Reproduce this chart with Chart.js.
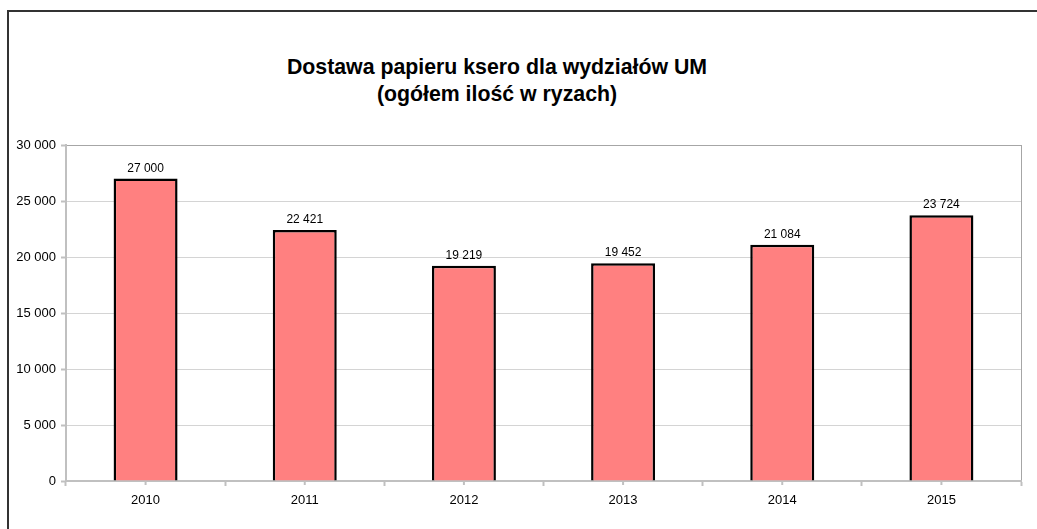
<!DOCTYPE html>
<html>
<head>
<meta charset="utf-8">
<script src="https://cdn.jsdelivr.net/npm/chart.js@4/dist/chart.umd.min.js"></script>
<style>
  html, body { margin: 0; padding: 0; background: #fff; overflow: hidden; }
  #frame {
    position: absolute; left: 7px; top: 10px;
    width: 1100px; height: 600px;
    border: 2px solid #333;
  }
  #title {
    position: absolute; left: 197px; top: 54px; width: 600px;
    text-align: center;
    font: bold 21.3px "Liberation Sans", Arial, sans-serif;
    line-height: 27px; color: #000; white-space: nowrap;
  }
  #wrap { position: absolute; left: 0; top: 0; width: 1037px; height: 529px; }
  canvas { display: block; }
</style>
</head>
<body>
<div id="frame"></div>
<div id="title">Dostawa papieru ksero dla wydziałów UM<br>(ogółem ilość w ryzach)</div>
<div id="wrap"><canvas id="paperChart" width="1037" height="529"></canvas></div>
<script>
// values
const years = ["2010", "2011", "2012", "2013", "2014", "2015"];
const reams = [27000, 22421, 19219, 19452, 21084, 23724];
const yTicks = [0, 5000, 10000, 15000, 20000, 25000, 30000];

const fmt = (v) => String(v).replace(/\B(?=(\d{3})+(?!\d))/g, " ");

// value above each bar
const valueLabels = {
  id: "valueLabels",
  afterDatasetsDraw(chart) {
    const ctx = chart.ctx;
    const meta = chart.getDatasetMeta(0);
    ctx.save();
    ctx.font = '12px "Liberation Sans", Arial, sans-serif';
    ctx.fillStyle = "#000";
    ctx.textAlign = "center";
    ctx.textBaseline = "alphabetic";
    meta.data.forEach((bar, i) => {
      ctx.fillText(fmt(reams[i]), bar.x, bar.y - 7);
    });
    ctx.restore();
  }
};

// small marks under each category, like the excel axis
const centerTicks = {
  id: "centerTicks",
  afterDraw(chart) {
    const x = chart.scales.x;
    const ctx = chart.ctx;
    ctx.save();
    ctx.strokeStyle = "#c0c0c0";
    ctx.lineWidth = 2;
    years.forEach((y, i) => {
      const px = x.getPixelForValue(i);
      ctx.beginPath();
      ctx.moveTo(px, x.top);
      ctx.lineTo(px, x.top + 4);
      ctx.stroke();
    });
    ctx.restore();
  }
};

new Chart(document.getElementById("paperChart"), {
  type: "bar",
  data: {
    labels: years,
    datasets: [
      {
        data: reams,
        backgroundColor: "#ff8080",
        borderColor: "#000",
        borderWidth: 2.5,
        categoryPercentage: 1,
        barPercentage: 0.402
      }
    ]
  },
  options: {
    responsive: false,
    animation: false,
    devicePixelRatio: 1,
    layout: { padding: { left: 10, right: 16, top: 145, bottom: 18 } },
    plugins: {
      legend: { display: false },
      tooltip: { enabled: false },
      title: { display: false }
    },
    scales: {
      x: {
        grid: {
          offset: true,
          drawOnChartArea: true,
          color: (c) => (c.type === "tick" ? "rgba(0,0,0,0)" : "#a6a6a6"),
          tickColor: "#c0c0c0",
          tickWidth: 2,
          tickLength: 5
        },
        border: { color: "#c0c0c0", width: 2 },
        ticks: {
          color: "#000",
          padding: 7,
          font: { family: '"Liberation Sans", Arial, sans-serif', size: 13 }
        },
        afterFit: (s) => { s.height = 30; }
      },
      y: {
        min: 0,
        max: 30000,
        afterBuildTicks: (s) => { s.ticks = yTicks.map((v) => ({ value: v })); },
        grid: {
          color: (c) => (c.tick && c.tick.value === 30000 ? "#a6a6a6" : "#d4d4d4"),
          tickColor: "#c0c0c0",
          tickWidth: 2,
          tickLength: 5
        },
        border: { color: "#c0c0c0", width: 2 },
        ticks: {
          color: "#000",
          padding: 5,
          font: { family: '"Liberation Sans", Arial, sans-serif', size: 13 },
          callback: (v) => fmt(v)
        },
        afterFit: (s) => { s.width = 56; }
      }
    }
  },
  plugins: [valueLabels, centerTicks]
});
</script>
</body>
</html>
